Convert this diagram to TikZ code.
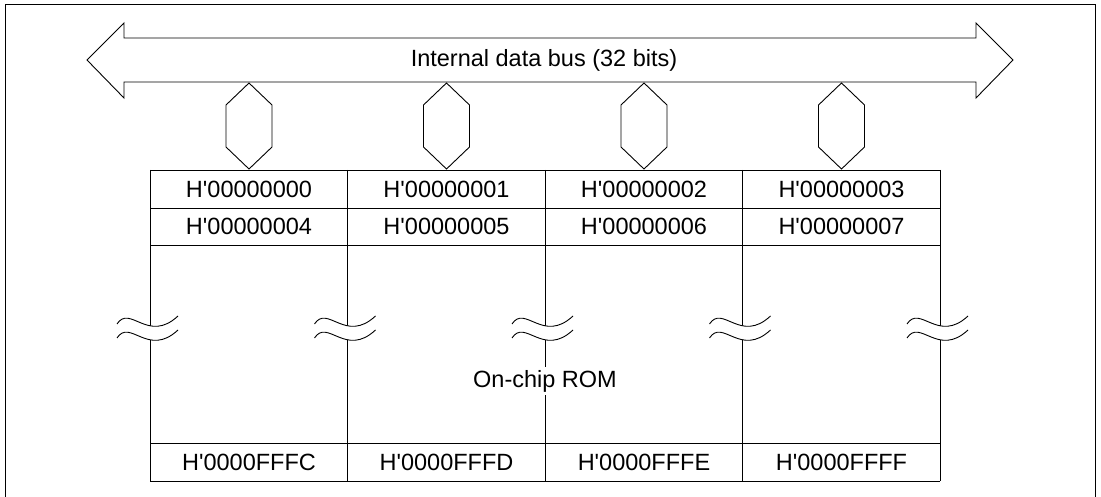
\documentclass[tikz,border=0pt]{standalone}
\usepackage{fontspec}
\setmainfont{Liberation Sans}[Ligatures=TeXOff]
\begin{document}
\begin{tikzpicture}[x=1pt,y=-1pt,line width=0.9pt,line join=miter,
	cell/.style={font=\fontsize{23.5}{28}\selectfont,inner sep=0pt},
	buslabel/.style={font=\fontsize{23.5}{28}\selectfont,inner sep=0pt}]
	\useasboundingbox (0,0) rectangle (1101,497);
	% frame
	\draw (5,497)--(5,4)--(1095,4)--(1095,497);
	% internal bus
	\draw (87,60)--(124,23)--(124,38)--(976,38)--(976,23)--(1013,60)--(976,98)--(976,82)--(124,82)--(124,98)--cycle;
	\node[buslabel] (bus) at (544,60) {Internal data bus (32 bits)};
	% byte lanes
	\foreach \i in {0,...,3}{
		\pgfmathsetmacro{\c}{249+197.5*\i}
		\draw (\c,83)--(\c+23,105)--(\c+23,147)--(\c,169)--(\c-23,147)--(\c-23,105)--cycle;
	}
	% memory table
	\foreach \y in {170,208,245,443,481} \draw (150,\y)--(940,\y);
	\foreach \x in {150,347.5,545,742.5,940} \draw (\x,170)--(\x,481);
	\foreach \i in {0,...,3}{
		\pgfmathsetmacro{\c}{249+197.5*\i}
		\pgfmathtruncatemacro{\j}{\i+4}
		\node[cell] (top\i) at (\c,189) {H'0000000\i};
		\node[cell] (next\i) at (\c,226.5) {H'0000000\j};
	}
	\foreach \i/\h in {0/C,1/D,2/E,3/F}{
		\pgfmathsetmacro{\c}{249+197.5*\i}
		\node[cell] (last\i) at (\c,462) {H'0000FFF\h};
	}
	% breaks
	\foreach \x in {150,347.5,545,742.5,940}{
		\fill[white] (\x-33,324) .. controls (\x-20,304) and (\x-2,344) .. (\x+28,316)
			-- (\x+28,330) .. controls (\x-2,358) and (\x-20,318) .. (\x-33,338) -- cycle;
		\draw (\x-33,324) .. controls (\x-20,304) and (\x-2,344) .. (\x+28,316)
			(\x-33,338) .. controls (\x-20,318) and (\x-2,358) .. (\x+28,330);
	}
	\node[cell,fill=white,inner sep=3pt] (rom) at (545,381) {On-chip ROM};
\end{tikzpicture}
\end{document}
